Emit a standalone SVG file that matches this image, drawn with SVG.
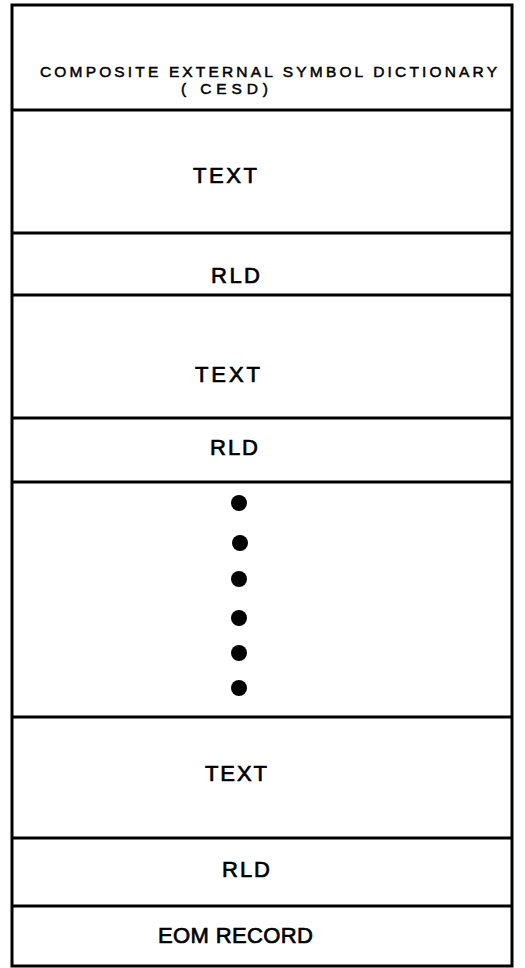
<svg xmlns="http://www.w3.org/2000/svg" width="525" height="968" viewBox="0 0 525 968">
<style>
.box{fill:#fff;stroke:#000;stroke-width:3}
.div{stroke:#000;stroke-width:3}
.t{font-family:"Liberation Sans",Arial,sans-serif;fill:#000;stroke:#000;stroke-width:0.7;font-size:22px}
.s{font-size:15.5px;stroke-width:0.5}
.dot{fill:#000}
</style>
<rect width="525" height="968" fill="#fff"/>
<rect class="box" x="12" y="5" width="500" height="961"/>
<g id="dividers">
<line class="div" x1="12" y1="110" x2="512" y2="110"/>
<line class="div" x1="12" y1="233" x2="512" y2="233"/>
<line class="div" x1="12" y1="295" x2="512" y2="295"/>
<line class="div" x1="12" y1="418" x2="512" y2="418"/>
<line class="div" x1="12" y1="482" x2="512" y2="482"/>
<line class="div" x1="12" y1="717" x2="512" y2="717"/>
<line class="div" x1="12" y1="838" x2="512" y2="838"/>
<line class="div" x1="12" y1="906" x2="512" y2="906"/>
</g>
<g id="cesd">
<text class="t s" x="40" y="77" textLength="457" lengthAdjust="spacing">COMPOSITE EXTERNAL SYMBOL DICTIONARY</text>
<text class="t s" x="181" y="94" textLength="87" lengthAdjust="spacing">( CESD)</text>
</g>
<g id="text1"><text class="t" x="193" y="183" textLength="64" lengthAdjust="spacing">TEXT</text></g>
<g id="rld1"><text class="t" x="211" y="283" textLength="49" lengthAdjust="spacing">RLD</text></g>
<g id="text2"><text class="t" x="195" y="382" textLength="65" lengthAdjust="spacing">TEXT</text></g>
<g id="rld2"><text class="t" x="210" y="455" textLength="48" lengthAdjust="spacing">RLD</text></g>
<g id="ellipsis">
<circle class="dot" cx="239" cy="503" r="8"/>
<circle class="dot" cx="240" cy="543" r="8"/>
<circle class="dot" cx="239" cy="579" r="8"/>
<circle class="dot" cx="239" cy="618" r="8"/>
<circle class="dot" cx="239" cy="653" r="8"/>
<circle class="dot" cx="239" cy="688" r="8"/>
</g>
<g id="text3"><text class="t" x="205" y="781" textLength="62" lengthAdjust="spacing">TEXT</text></g>
<g id="rld3"><text class="t" x="222" y="877" textLength="48" lengthAdjust="spacing">RLD</text></g>
<g id="eom"><text class="t" x="158" y="943" textLength="155" lengthAdjust="spacing">EOM RECORD</text></g>
</svg>
